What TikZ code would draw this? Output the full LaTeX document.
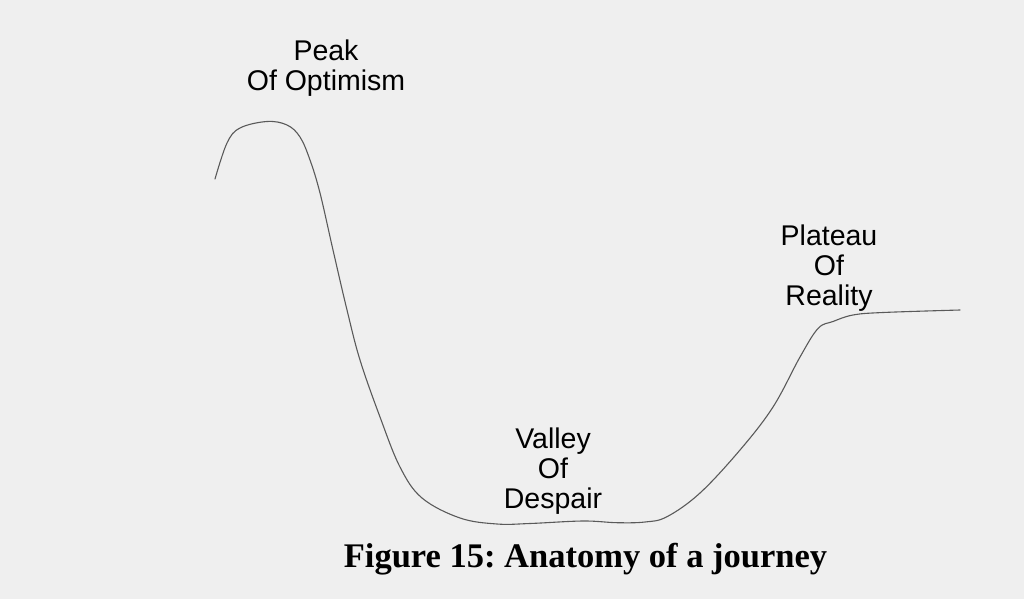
\documentclass[tikz,border=0pt]{standalone}
\usepackage{fontspec}
\setmainfont{Liberation Sans}
\newfontfamily\capfont{Liberation Serif}
\definecolor{bgcol}{HTML}{EFEFEF}
\definecolor{curvecol}{HTML}{5A5A5A}
\begin{document}
\frenchspacing
\begin{tikzpicture}[x=1pt,y=-1pt,
  lbl/.style={align=center,inner sep=0pt,anchor=base,font=\fontsize{28.5}{30}\selectfont},
  curve/.style={draw=curvecol,line width=1.1pt,line cap=round,line join=round}]
\fill[bgcol] (0,0) rectangle (1024,599);
\useasboundingbox (0,0) rectangle (1024,599);
\draw[curve] plot[smooth,tension=0.6] coordinates {
 (215,179) (227,143) (240,128) (267,121.5) (287,125) (300,137) (310,160)
 (320,193) (333,250) (347,310) (360,360) (380,417) (400,467) (422,498)
 (460,518) (497,524) (530,523.5) (583,521) (617,522.7) (645,522)
 (667,516.7) (700,493) (740,450) (773,407) (800,357) (818,328.5)
 (833,321.5) (853,315) (883,312.5) (960,310)};
\node[lbl] (peak) at (326,91) {Peak\\Of Optimism};
\node[lbl] (valley) at (553,508) {Valley\\Of\\Despair};
\node[lbl] (plateau) at (829,305) {Plateau\\Of\\Reality};
\node[inner sep=0pt,anchor=base,font=\capfont\bfseries\fontsize{34.5}{40}\selectfont] (cap) at (585.5,567) {Figure 15: Anatomy of a journey};
\end{tikzpicture}
\end{document}
